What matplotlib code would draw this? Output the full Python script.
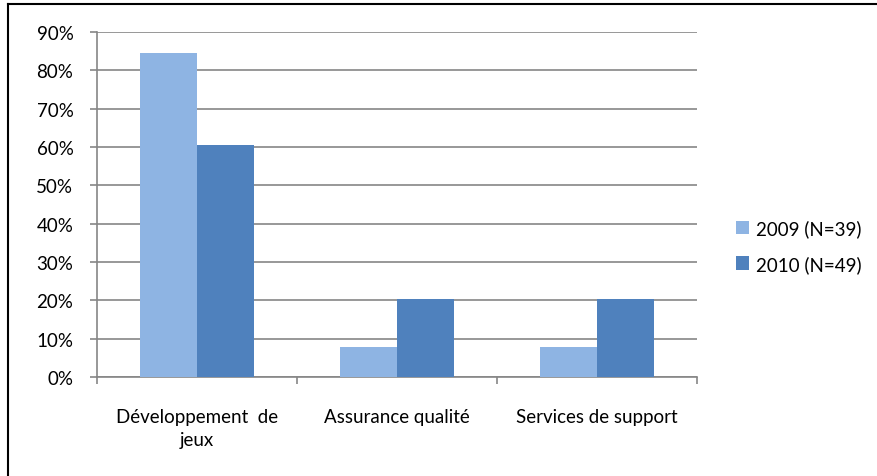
import numpy as np
import matplotlib
matplotlib.use("Agg")
import matplotlib.pyplot as plt
from matplotlib.lines import Line2D
from matplotlib.ticker import FuncFormatter, FixedLocator

plt.rcParams['font.family'] = ['Lato', 'DejaVu Sans']

categories = ["Développement  de\njeux", "Assurance qualité", "Services de support"]
series_names = ["2009 (N=39)", "2010 (N=49)"]
values_2009 = [0.846, 0.077, 0.077]
values_2010 = [0.605, 0.204, 0.204]
colors = ["#8EB4E3", "#4F81BD"]
yticks = [0, 0.1, 0.2, 0.3, 0.4, 0.5, 0.6, 0.7, 0.8, 0.9]
fs = 13.5

fig = plt.figure(figsize=(8.77, 4.77), dpi=100)
ax = fig.add_axes([97 / 877, 1 - 378 / 477, 600 / 877, 345 / 477])

x = np.arange(len(categories))
w = 0.283
ax.bar(x - w / 2, values_2009, w, color=colors[0], label=series_names[0], zorder=3)
ax.bar(x + w / 2, values_2010, w, color=colors[1], label=series_names[1], zorder=3)

ax.set_xlim(-0.5, len(categories) - 0.5)
ax.set_ylim(0, 0.9)
ax.set_yticks(yticks)
ax.yaxis.set_major_formatter(FuncFormatter(lambda v, p: f"{v * 100:.0f}%"))
ax.yaxis.grid(True, color="#868686", linewidth=1.2, zorder=0)

# category labels sit between the boundary ticks
ax.set_xticks(x)
ax.set_xticklabels(categories, fontsize=fs, color="#000000", linespacing=1.45)
ax.tick_params(axis="x", length=0, pad=22)
ax.xaxis.set_minor_locator(FixedLocator(np.arange(len(categories) + 1) - 0.5))
ax.tick_params(axis="x", which="minor", length=5, color="#868686", width=1.2)
ax.tick_params(axis="y", length=5, color="#868686", width=1.2, labelsize=fs, pad=12)

for side in ["top", "right"]:
    ax.spines[side].set_visible(False)
for side in ["left", "bottom"]:
    ax.spines[side].set_color("#868686")
    ax.spines[side].set_linewidth(1.2)

ax.legend(loc="center left", bbox_to_anchor=(1.043, 0.38), frameon=False,
          fontsize=fs, handlelength=0.72, handleheight=0.72, handletextpad=0.35,
          labelspacing=0.95, borderaxespad=0.3)

# chart frame, left and top edges
fig.add_artist(Line2D([8 / 877, 8 / 877], [0, 1 - 5 / 477], transform=fig.transFigure,
                      color="black", linewidth=1.5))
fig.add_artist(Line2D([8 / 877, 1], [1 - 5 / 477, 1 - 5 / 477], transform=fig.transFigure,
                      color="black", linewidth=1.5))

fig.savefig("out.png", dpi=100)
